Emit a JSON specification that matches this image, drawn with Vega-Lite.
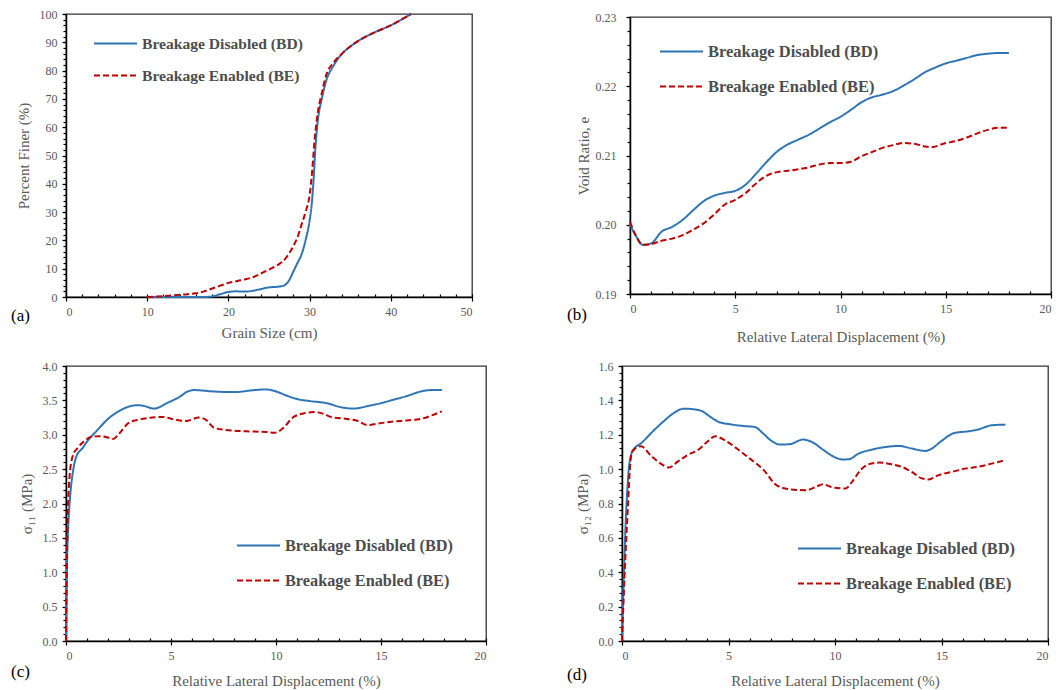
{
  "$schema": "https://vega.github.io/schema/vega-lite/v6.json",
  "padding": {"left": 10, "top": 7, "right": 0, "bottom": 0},
  "background": "white",
  "datasets": {
    "a": [
      {"x":10,"y":0,"s":"BD"},{"x":14,"y":0,"s":"BD"},{"x":17,"y":0,"s":"BD"},{"x":18,"y":0.2,"s":"BD"},{"x":19,"y":1,"s":"BD"},{"x":20,"y":1.8,"s":"BD"},{"x":21,"y":2,"s":"BD"},{"x":22,"y":1.9,"s":"BD"},{"x":23,"y":2.2,"s":"BD"},{"x":24,"y":2.8,"s":"BD"},{"x":25,"y":3.4,"s":"BD"},{"x":26,"y":3.6,"s":"BD"},{"x":26.8,"y":4,"s":"BD"},{"x":27.5,"y":6,"s":"BD"},{"x":28,"y":9,"s":"BD"},{"x":28.5,"y":12,"s":"BD"},{"x":29,"y":15,"s":"BD"},{"x":29.5,"y":20,"s":"BD"},{"x":30,"y":27,"s":"BD"},{"x":30.3,"y":34,"s":"BD"},{"x":30.5,"y":42,"s":"BD"},{"x":30.7,"y":52,"s":"BD"},{"x":31,"y":62,"s":"BD"},{"x":31.5,"y":70,"s":"BD"},{"x":32,"y":76,"s":"BD"},{"x":33,"y":82,"s":"BD"},{"x":34,"y":86,"s":"BD"},{"x":35,"y":88.5,"s":"BD"},{"x":36,"y":90.5,"s":"BD"},{"x":38,"y":93.5,"s":"BD"},{"x":40,"y":96,"s":"BD"},{"x":42.5,"y":100,"s":"BD"},
      {"x":10,"y":0,"s":"BE"},{"x":12,"y":0.3,"s":"BE"},{"x":14,"y":0.8,"s":"BE"},{"x":15,"y":1,"s":"BE"},{"x":16,"y":1.3,"s":"BE"},{"x":17,"y":2,"s":"BE"},{"x":18,"y":3,"s":"BE"},{"x":19,"y":4,"s":"BE"},{"x":20,"y":5,"s":"BE"},{"x":21,"y":5.6,"s":"BE"},{"x":22,"y":6.2,"s":"BE"},{"x":23,"y":7,"s":"BE"},{"x":24,"y":8.3,"s":"BE"},{"x":25,"y":9.7,"s":"BE"},{"x":26,"y":11.2,"s":"BE"},{"x":27,"y":13.5,"s":"BE"},{"x":28,"y":18,"s":"BE"},{"x":28.5,"y":21,"s":"BE"},{"x":29,"y":25.5,"s":"BE"},{"x":29.5,"y":30,"s":"BE"},{"x":30,"y":36,"s":"BE"},{"x":30.3,"y":44,"s":"BE"},{"x":30.6,"y":55,"s":"BE"},{"x":31,"y":65,"s":"BE"},{"x":31.5,"y":72,"s":"BE"},{"x":32,"y":78,"s":"BE"},{"x":33,"y":83,"s":"BE"},{"x":34,"y":86,"s":"BE"},{"x":35,"y":88.5,"s":"BE"},{"x":36,"y":90.5,"s":"BE"},{"x":38,"y":93.5,"s":"BE"},{"x":40,"y":96,"s":"BE"},{"x":42.5,"y":100,"s":"BE"}
    ],
    "b": [
      {"x":0,"y":0.2,"s":"BD"},{"x":0.3,"y":0.1983,"s":"BD"},{"x":0.6,"y":0.1971,"s":"BD"},{"x":1,"y":0.1973,"s":"BD"},{"x":1.5,"y":0.199,"s":"BD"},{"x":2,"y":0.1997,"s":"BD"},{"x":2.5,"y":0.2007,"s":"BD"},{"x":3,"y":0.2021,"s":"BD"},{"x":3.5,"y":0.2034,"s":"BD"},{"x":4,"y":0.2042,"s":"BD"},{"x":4.5,"y":0.2046,"s":"BD"},{"x":5,"y":0.2049,"s":"BD"},{"x":5.5,"y":0.2058,"s":"BD"},{"x":6,"y":0.2074,"s":"BD"},{"x":6.5,"y":0.2091,"s":"BD"},{"x":7,"y":0.2106,"s":"BD"},{"x":7.5,"y":0.2116,"s":"BD"},{"x":8,"y":0.2123,"s":"BD"},{"x":8.5,"y":0.213,"s":"BD"},{"x":9,"y":0.2139,"s":"BD"},{"x":9.5,"y":0.2148,"s":"BD"},{"x":10,"y":0.2156,"s":"BD"},{"x":10.5,"y":0.2166,"s":"BD"},{"x":11,"y":0.2177,"s":"BD"},{"x":11.5,"y":0.2184,"s":"BD"},{"x":12,"y":0.2188,"s":"BD"},{"x":12.5,"y":0.2193,"s":"BD"},{"x":13,"y":0.2201,"s":"BD"},{"x":13.5,"y":0.221,"s":"BD"},{"x":14,"y":0.222,"s":"BD"},{"x":14.5,"y":0.2227,"s":"BD"},{"x":15,"y":0.2233,"s":"BD"},{"x":15.5,"y":0.2237,"s":"BD"},{"x":16,"y":0.2241,"s":"BD"},{"x":16.5,"y":0.2245,"s":"BD"},{"x":17,"y":0.2247,"s":"BD"},{"x":17.5,"y":0.2248,"s":"BD"},{"x":18,"y":0.2248,"s":"BD"},
      {"x":0,"y":0.2004,"s":"BE"},{"x":0.3,"y":0.1983,"s":"BE"},{"x":0.6,"y":0.1971,"s":"BE"},{"x":1,"y":0.1972,"s":"BE"},{"x":1.5,"y":0.1977,"s":"BE"},{"x":2,"y":0.198,"s":"BE"},{"x":2.5,"y":0.1985,"s":"BE"},{"x":3,"y":0.1993,"s":"BE"},{"x":3.5,"y":0.2002,"s":"BE"},{"x":4,"y":0.2015,"s":"BE"},{"x":4.5,"y":0.2029,"s":"BE"},{"x":5,"y":0.2036,"s":"BE"},{"x":5.5,"y":0.2046,"s":"BE"},{"x":6,"y":0.206,"s":"BE"},{"x":6.5,"y":0.2071,"s":"BE"},{"x":7,"y":0.2076,"s":"BE"},{"x":7.5,"y":0.2078,"s":"BE"},{"x":8,"y":0.208,"s":"BE"},{"x":8.5,"y":0.2083,"s":"BE"},{"x":9,"y":0.2087,"s":"BE"},{"x":9.5,"y":0.2089,"s":"BE"},{"x":10,"y":0.2089,"s":"BE"},{"x":10.5,"y":0.2091,"s":"BE"},{"x":11,"y":0.2099,"s":"BE"},{"x":11.5,"y":0.2105,"s":"BE"},{"x":12,"y":0.2111,"s":"BE"},{"x":12.5,"y":0.2115,"s":"BE"},{"x":13,"y":0.2118,"s":"BE"},{"x":13.5,"y":0.2117,"s":"BE"},{"x":14,"y":0.2113,"s":"BE"},{"x":14.3,"y":0.2112,"s":"BE"},{"x":15,"y":0.2118,"s":"BE"},{"x":15.5,"y":0.2121,"s":"BE"},{"x":16,"y":0.2126,"s":"BE"},{"x":16.5,"y":0.2132,"s":"BE"},{"x":17,"y":0.2137,"s":"BE"},{"x":17.5,"y":0.214,"s":"BE"},{"x":18,"y":0.214,"s":"BE"}
    ],
    "c": [
      {"x":0,"y":0,"s":"BD"},{"x":0.05,"y":1.14,"s":"BD"},{"x":0.1,"y":1.62,"s":"BD"},{"x":0.2,"y":2.11,"s":"BD"},{"x":0.35,"y":2.5,"s":"BD"},{"x":0.5,"y":2.69,"s":"BD"},{"x":0.8,"y":2.81,"s":"BD"},{"x":1,"y":2.9,"s":"BD"},{"x":1.5,"y":3.07,"s":"BD"},{"x":2,"y":3.23,"s":"BD"},{"x":2.5,"y":3.34,"s":"BD"},{"x":3,"y":3.41,"s":"BD"},{"x":3.4,"y":3.43,"s":"BD"},{"x":3.7,"y":3.42,"s":"BD"},{"x":4.2,"y":3.38,"s":"BD"},{"x":4.8,"y":3.46,"s":"BD"},{"x":5.4,"y":3.55,"s":"BD"},{"x":5.8,"y":3.63,"s":"BD"},{"x":6.1,"y":3.65,"s":"BD"},{"x":7,"y":3.63,"s":"BD"},{"x":8,"y":3.62,"s":"BD"},{"x":9,"y":3.65,"s":"BD"},{"x":9.5,"y":3.66,"s":"BD"},{"x":9.9,"y":3.64,"s":"BD"},{"x":10.5,"y":3.57,"s":"BD"},{"x":11,"y":3.52,"s":"BD"},{"x":11.6,"y":3.49,"s":"BD"},{"x":12.4,"y":3.46,"s":"BD"},{"x":13.1,"y":3.4,"s":"BD"},{"x":13.7,"y":3.38,"s":"BD"},{"x":14.4,"y":3.42,"s":"BD"},{"x":15,"y":3.46,"s":"BD"},{"x":15.6,"y":3.51,"s":"BD"},{"x":16.3,"y":3.57,"s":"BD"},{"x":16.9,"y":3.63,"s":"BD"},{"x":17.4,"y":3.65,"s":"BD"},{"x":17.9,"y":3.65,"s":"BD"},
      {"x":0,"y":0,"s":"BE"},{"x":0.05,"y":1.38,"s":"BE"},{"x":0.16,"y":2.35,"s":"BE"},{"x":0.32,"y":2.69,"s":"BE"},{"x":0.56,"y":2.81,"s":"BE"},{"x":0.88,"y":2.91,"s":"BE"},{"x":1.2,"y":2.97,"s":"BE"},{"x":1.6,"y":2.98,"s":"BE"},{"x":2,"y":2.96,"s":"BE"},{"x":2.25,"y":2.94,"s":"BE"},{"x":2.57,"y":3.03,"s":"BE"},{"x":2.97,"y":3.17,"s":"BE"},{"x":3.45,"y":3.22,"s":"BE"},{"x":4.1,"y":3.25,"s":"BE"},{"x":4.57,"y":3.26,"s":"BE"},{"x":5.05,"y":3.23,"s":"BE"},{"x":5.7,"y":3.2,"s":"BE"},{"x":6.33,"y":3.25,"s":"BE"},{"x":6.65,"y":3.22,"s":"BE"},{"x":7.06,"y":3.1,"s":"BE"},{"x":7.6,"y":3.07,"s":"BE"},{"x":8.6,"y":3.05,"s":"BE"},{"x":9.55,"y":3.04,"s":"BE"},{"x":9.94,"y":3.03,"s":"BE"},{"x":10.35,"y":3.1,"s":"BE"},{"x":10.8,"y":3.25,"s":"BE"},{"x":11.3,"y":3.31,"s":"BE"},{"x":11.8,"y":3.33,"s":"BE"},{"x":12.3,"y":3.3,"s":"BE"},{"x":12.6,"y":3.26,"s":"BE"},{"x":13.4,"y":3.23,"s":"BE"},{"x":13.9,"y":3.2,"s":"BE"},{"x":14.35,"y":3.14,"s":"BE"},{"x":14.8,"y":3.16,"s":"BE"},{"x":15.5,"y":3.19,"s":"BE"},{"x":16.3,"y":3.21,"s":"BE"},{"x":16.9,"y":3.23,"s":"BE"},{"x":17.4,"y":3.28,"s":"BE"},{"x":17.9,"y":3.34,"s":"BE"}
    ],
    "d": [
      {"x":0,"y":0,"s":"BD"},{"x":0.16,"y":0.65,"s":"BD"},{"x":0.32,"y":1.0,"s":"BD"},{"x":0.44,"y":1.09,"s":"BD"},{"x":0.55,"y":1.115,"s":"BD"},{"x":0.89,"y":1.15,"s":"BD"},{"x":1.5,"y":1.226,"s":"BD"},{"x":1.97,"y":1.28,"s":"BD"},{"x":2.44,"y":1.327,"s":"BD"},{"x":2.9,"y":1.352,"s":"BD"},{"x":3.37,"y":1.348,"s":"BD"},{"x":3.76,"y":1.337,"s":"BD"},{"x":4.15,"y":1.304,"s":"BD"},{"x":4.53,"y":1.275,"s":"BD"},{"x":5.08,"y":1.261,"s":"BD"},{"x":5.7,"y":1.251,"s":"BD"},{"x":6.24,"y":1.245,"s":"BD"},{"x":6.63,"y":1.207,"s":"BD"},{"x":7.02,"y":1.164,"s":"BD"},{"x":7.4,"y":1.143,"s":"BD"},{"x":7.87,"y":1.145,"s":"BD"},{"x":8.5,"y":1.172,"s":"BD"},{"x":8.96,"y":1.155,"s":"BD"},{"x":9.43,"y":1.114,"s":"BD"},{"x":9.9,"y":1.075,"s":"BD"},{"x":10.36,"y":1.056,"s":"BD"},{"x":10.67,"y":1.058,"s":"BD"},{"x":11.1,"y":1.09,"s":"BD"},{"x":11.75,"y":1.114,"s":"BD"},{"x":12.4,"y":1.129,"s":"BD"},{"x":13,"y":1.135,"s":"BD"},{"x":13.6,"y":1.12,"s":"BD"},{"x":14.24,"y":1.106,"s":"BD"},{"x":14.55,"y":1.12,"s":"BD"},{"x":15,"y":1.164,"s":"BD"},{"x":15.6,"y":1.21,"s":"BD"},{"x":16.26,"y":1.22,"s":"BD"},{"x":16.7,"y":1.23,"s":"BD"},{"x":17.35,"y":1.255,"s":"BD"},{"x":18,"y":1.259,"s":"BD"},
      {"x":0,"y":0,"s":"BE"},{"x":0.11,"y":0.35,"s":"BE"},{"x":0.26,"y":0.74,"s":"BE"},{"x":0.42,"y":1.07,"s":"BE"},{"x":0.53,"y":1.11,"s":"BE"},{"x":0.89,"y":1.133,"s":"BE"},{"x":1.35,"y":1.08,"s":"BE"},{"x":1.82,"y":1.032,"s":"BE"},{"x":2.2,"y":1.009,"s":"BE"},{"x":2.6,"y":1.042,"s":"BE"},{"x":3.06,"y":1.081,"s":"BE"},{"x":3.6,"y":1.114,"s":"BE"},{"x":3.99,"y":1.158,"s":"BE"},{"x":4.38,"y":1.191,"s":"BE"},{"x":4.77,"y":1.172,"s":"BE"},{"x":5.39,"y":1.12,"s":"BE"},{"x":6,"y":1.061,"s":"BE"},{"x":6.63,"y":0.998,"s":"BE"},{"x":7.25,"y":0.907,"s":"BE"},{"x":7.87,"y":0.883,"s":"BE"},{"x":8.65,"y":0.877,"s":"BE"},{"x":9.11,"y":0.897,"s":"BE"},{"x":9.43,"y":0.912,"s":"BE"},{"x":9.9,"y":0.893,"s":"BE"},{"x":10.5,"y":0.887,"s":"BE"},{"x":10.8,"y":0.926,"s":"BE"},{"x":11.2,"y":0.994,"s":"BE"},{"x":11.6,"y":1.029,"s":"BE"},{"x":12.07,"y":1.038,"s":"BE"},{"x":12.7,"y":1.027,"s":"BE"},{"x":13.15,"y":1.013,"s":"BE"},{"x":13.6,"y":0.984,"s":"BE"},{"x":14.1,"y":0.945,"s":"BE"},{"x":14.4,"y":0.94,"s":"BE"},{"x":14.86,"y":0.965,"s":"BE"},{"x":15.5,"y":0.984,"s":"BE"},{"x":16.1,"y":1.003,"s":"BE"},{"x":16.7,"y":1.013,"s":"BE"},{"x":17.35,"y":1.032,"s":"BE"},{"x":18,"y":1.052,"s":"BE"}
    ]
  },
  "vconcat": [
    {
      "hconcat": [
        {
          "width": 406, "height": 283,
          "data": {"name": "a"},
          "title": {"text": "(a)", "orient": "bottom", "anchor": "start", "frame": "group", "dx": -55, "offset": -32},
          "layer": [
            {
              "mark": {"type": "line", "interpolate": "monotone", "strokeWidth": 2},
              "encoding": {
                "x": {"field": "x", "type": "quantitative", "scale": {"domain": [0, 50], "nice": false}, "axis": {"title": "Grain Size (cm)", "values": [0, 10, 20, 30, 40, 50]}},
                "y": {"field": "y", "type": "quantitative", "scale": {"domain": [0, 100], "nice": false}, "axis": {"title": "Percent Finer (%)", "values": [0, 10, 20, 30, 40, 50, 60, 70, 80, 90, 100]}},
                "color": {"field": "s", "type": "nominal", "scale": {"domain": ["BD", "BE"], "range": ["#2e75b6", "#c00000"]}, "legend": {"orient": "none", "legendX": 27, "legendY": 7, "rowPadding": -8, "labelFontSize": 15.6, "labelExpr": "datum.label == 'BD' ? 'Breakage Disabled (BD)' : 'Breakage Enabled (BE)'"}},
                "strokeDash": {"field": "s", "type": "nominal", "scale": {"domain": ["BD", "BE"], "range": [[1, 0], [6, 3]]}, "legend": {"orient": "none", "legendX": 27, "legendY": 7, "rowPadding": -8, "labelFontSize": 15.6, "labelExpr": "datum.label == 'BD' ? 'Breakage Disabled (BD)' : 'Breakage Enabled (BE)'"}}
              }
            },
            {
              "mark": {"type": "point", "opacity": 0},
              "encoding": {
                "x": {"field": "x", "type": "quantitative", "axis": {"orient": "bottom", "labels": false, "domain": false, "title": null, "tickCount": 25, "tickSize": -3}},
                "y": {"field": "y", "type": "quantitative", "axis": {"orient": "left", "labels": false, "domain": false, "title": null, "tickCount": 50, "tickSize": 3}}
              }
            }
          ],
          "resolve": {"axis": {"x": "independent", "y": "independent"}}
        },
        {
          "width": 421, "height": 277,
          "data": {"name": "b"},
          "title": {"text": "(b)", "orient": "bottom", "anchor": "start", "frame": "group", "dx": -63, "offset": -37},
          "layer": [
            {
              "mark": {"type": "line", "interpolate": "monotone", "strokeWidth": 2},
              "encoding": {
                "x": {"field": "x", "type": "quantitative", "scale": {"domain": [0, 20], "nice": false}, "axis": {"title": "Relative Lateral Displacement (%)", "values": [0, 5, 10, 15, 20], "titlePadding": 15}},
                "y": {"field": "y", "type": "quantitative", "scale": {"domain": [0.19, 0.23], "nice": false, "zero": false}, "axis": {"title": "Void Ratio, e", "values": [0.19, 0.2, 0.21, 0.22, 0.23], "format": ".2f", "labelPadding": 10, "titlePadding": 4}},
                "color": {"field": "s", "type": "nominal", "scale": {"domain": ["BD", "BE"], "range": ["#2e75b6", "#c00000"]}, "legend": {"orient": "none", "legendX": 29, "legendY": 12, "rowPadding": 4, "labelFontSize": 16.5, "labelExpr": "datum.label == 'BD' ? 'Breakage Disabled (BD)' : 'Breakage Enabled (BE)'"}},
                "strokeDash": {"field": "s", "type": "nominal", "scale": {"domain": ["BD", "BE"], "range": [[1, 0], [6, 3]]}, "legend": {"orient": "none", "legendX": 29, "legendY": 12, "rowPadding": 4, "labelFontSize": 16.5, "labelExpr": "datum.label == 'BD' ? 'Breakage Disabled (BD)' : 'Breakage Enabled (BE)'"}}
              }
            },
            {
              "mark": {"type": "point", "opacity": 0},
              "encoding": {
                "x": {"field": "x", "type": "quantitative", "axis": {"orient": "bottom", "labels": false, "domain": false, "title": null, "tickCount": 20, "tickSize": -3}},
                "y": {"field": "y", "type": "quantitative", "axis": {"orient": "left", "labels": false, "domain": false, "title": null, "tickCount": 20, "tickSize": 3}}
              }
            }
          ],
          "resolve": {"axis": {"x": "independent", "y": "independent"}}
        }
      ],
      "spacing": 158,
      "bounds": "flush",
      "center": true,
      "resolve": {"scale": {"color": "independent", "strokeDash": "independent"}, "legend": {"color": "independent", "strokeDash": "independent"}}
    },
    {
      "hconcat": [
        {
          "width": 420, "height": 275,
          "data": {"name": "c"},
          "title": {"text": "(c)", "orient": "bottom", "anchor": "start", "frame": "group", "dx": -55, "offset": -24},
          "layer": [
            {
              "mark": {"type": "line", "interpolate": "monotone", "strokeWidth": 2},
              "encoding": {
                "x": {"field": "x", "type": "quantitative", "scale": {"domain": [0, 20], "nice": false}, "axis": {"title": "Relative Lateral Displacement (%)", "values": [0, 5, 10, 15, 20], "titlePadding": 12}},
                "y": {"field": "y", "type": "quantitative", "scale": {"domain": [0, 4], "nice": false}, "axis": {"title": "σ₁₁ (MPa)", "values": [0, 0.5, 1, 1.5, 2, 2.5, 3, 3.5, 4], "format": ".1f"}},
                "color": {"field": "s", "type": "nominal", "scale": {"domain": ["BD", "BE"], "range": ["#2e75b6", "#c00000"]}, "legend": {"orient": "none", "legendX": 170, "legendY": 157, "rowPadding": 4, "labelFontSize": 16.3, "labelExpr": "datum.label == 'BD' ? 'Breakage Disabled (BD)' : 'Breakage Enabled (BE)'"}},
                "strokeDash": {"field": "s", "type": "nominal", "scale": {"domain": ["BD", "BE"], "range": [[1, 0], [6, 3]]}, "legend": {"orient": "none", "legendX": 170, "legendY": 157, "rowPadding": 4, "labelFontSize": 16.3, "labelExpr": "datum.label == 'BD' ? 'Breakage Disabled (BD)' : 'Breakage Enabled (BE)'"}}
              }
            },
            {
              "mark": {"type": "point", "opacity": 0},
              "encoding": {
                "x": {"field": "x", "type": "quantitative", "axis": {"orient": "bottom", "labels": false, "domain": false, "title": null, "tickCount": 20, "tickSize": -3}},
                "y": {"field": "y", "type": "quantitative", "axis": {"orient": "left", "labels": false, "domain": false, "title": null, "tickCount": 40, "tickSize": 3}}
              }
            }
          ],
          "resolve": {"axis": {"x": "independent", "y": "independent"}}
        },
        {
          "width": 426, "height": 275,
          "data": {"name": "d"},
          "title": {"text": "(d)", "orient": "bottom", "anchor": "start", "frame": "group", "dx": -55, "offset": -21},
          "layer": [
            {
              "mark": {"type": "line", "interpolate": "monotone", "strokeWidth": 2},
              "encoding": {
                "x": {"field": "x", "type": "quantitative", "scale": {"domain": [0, 20], "nice": false}, "axis": {"title": "Relative Lateral Displacement (%)", "values": [0, 5, 10, 15, 20], "titlePadding": 12}},
                "y": {"field": "y", "type": "quantitative", "scale": {"domain": [0, 1.6], "nice": false}, "axis": {"title": "σ₁₂ (MPa)", "values": [0, 0.2, 0.4, 0.6, 0.8, 1, 1.2, 1.4, 1.6], "format": ".1f"}},
                "color": {"field": "s", "type": "nominal", "scale": {"domain": ["BD", "BE"], "range": ["#2e75b6", "#c00000"]}, "legend": {"orient": "none", "legendX": 175, "legendY": 160, "rowPadding": 4, "labelFontSize": 16.4, "labelExpr": "datum.label == 'BD' ? 'Breakage Disabled (BD)' : 'Breakage Enabled (BE)'"}},
                "strokeDash": {"field": "s", "type": "nominal", "scale": {"domain": ["BD", "BE"], "range": [[1, 0], [6, 3]]}, "legend": {"orient": "none", "legendX": 175, "legendY": 160, "rowPadding": 4, "labelFontSize": 16.4, "labelExpr": "datum.label == 'BD' ? 'Breakage Disabled (BD)' : 'Breakage Enabled (BE)'"}}
              }
            },
            {
              "mark": {"type": "point", "opacity": 0},
              "encoding": {
                "x": {"field": "x", "type": "quantitative", "axis": {"orient": "bottom", "labels": false, "domain": false, "title": null, "tickCount": 20, "tickSize": -3}},
                "y": {"field": "y", "type": "quantitative", "axis": {"orient": "left", "labels": false, "domain": false, "title": null, "values": [0,0.04,0.08,0.12,0.16,0.2,0.24,0.28,0.32,0.36,0.4,0.44,0.48,0.52,0.56,0.6,0.64,0.68,0.72,0.76,0.8,0.84,0.88,0.92,0.96,1,1.04,1.08,1.12,1.16,1.2,1.24,1.28,1.32,1.36,1.4,1.44,1.48,1.52,1.56,1.6], "tickSize": 3}}
              }
            }
          ],
          "resolve": {"axis": {"x": "independent", "y": "independent"}}
        }
      ],
      "spacing": 136,
      "bounds": "flush",
      "resolve": {"scale": {"color": "independent", "strokeDash": "independent"}, "legend": {"color": "independent", "strokeDash": "independent"}}
    }
  ],
  "spacing": 14,
  "bounds": "full",
  "resolve": {"scale": {"color": "independent", "strokeDash": "independent"}, "legend": {"color": "independent", "strokeDash": "independent"}},
  "config": {
    "font": "Liberation Serif",
    "view": {"stroke": "#333333", "strokeWidth": 1.3},
    "axis": {"labelFont": "Liberation Serif", "labelFontSize": 12, "labelColor": "#595959", "titleFont": "Liberation Serif", "titleFontSize": 15, "titleColor": "#595959", "titleFontWeight": "normal", "domainColor": "#000000", "domainWidth": 1.5, "tickColor": "#000000", "tickWidth": 1.2, "tickSize": 4, "grid": false, "labelPadding": 5, "titlePadding": 8},
    "legend": {"title": null, "symbolType": "stroke", "symbolSize": 1849, "symbolStrokeWidth": 2, "labelFont": "Liberation Serif", "labelFontSize": 15, "labelFontWeight": "bold", "labelColor": "#4d4d4d", "labelOffset": 4, "labelLimit": 0, "padding": 0},
    "title": {"font": "Liberation Serif", "fontSize": 17, "fontWeight": "normal", "color": "#000000", "baseline": "middle"}
  }
}
